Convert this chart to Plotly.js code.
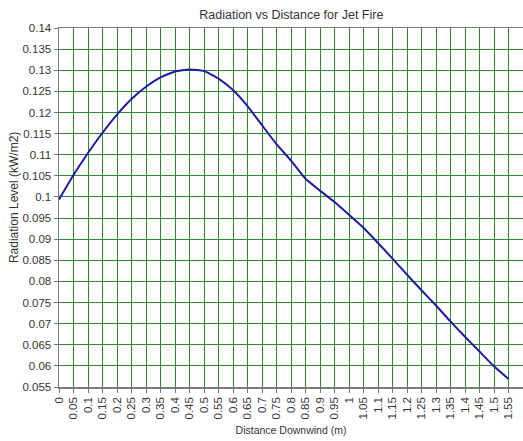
<!DOCTYPE html>
<html>
<head>
<meta charset="utf-8">
<script src="https://cdn.plot.ly/plotly-3.0.1.min.js"></script>
<style>html,body{margin:0;padding:0;background:#fff;}#chart{width:523px;height:441px;}</style>
</head>
<body>
<div id="chart"></div>
<script>
var distance = [0, 0.05, 0.1, 0.15, 0.2, 0.25, 0.3, 0.35, 0.4, 0.45, 0.5, 0.55, 0.6, 0.65, 0.7, 0.75, 0.8, 0.85, 0.9, 0.95, 1.0, 1.05, 1.1, 1.15, 1.2, 1.25, 1.3, 1.35, 1.4, 1.45, 1.5, 1.55];
var radiation = [0.0994, 0.1052, 0.1104, 0.1152, 0.1195, 0.1232, 0.1261, 0.1283, 0.1297, 0.1302, 0.1298, 0.1280, 0.1253, 0.1215, 0.1170, 0.1125, 0.1086, 0.1043, 0.1015, 0.0988, 0.0958, 0.0927, 0.0891, 0.0854, 0.0816, 0.0779, 0.0743, 0.0705, 0.0669, 0.0634, 0.0599, 0.0569];
var xTickLabels = ["0","0.05","0.1","0.15","0.2","0.25","0.3","0.35","0.4","0.45","0.5","0.55","0.6","0.65","0.7","0.75","0.8","0.85","0.9","0.95","1","1.05","1.1","1.15","1.2","1.25","1.3","1.35","1.4","1.45","1.5","1.55","1.6"];
var yTickLabels = ["0.055","0.06","0.065","0.07","0.075","0.08","0.085","0.09","0.095","0.1","0.105","0.11","0.115","0.12","0.125","0.13","0.135","0.14"];
var xTickVals = xTickLabels.map(Number);
var yTickVals = yTickLabels.map(Number);
var chartTitle = 'Radiation vs Distance for Jet Fire';
var xTitle = 'Distance Downwind (m)';
var yTitle = 'Radiation Level (kW/m2)';

var fontFam = "Liberation Sans, Arial, sans-serif";
var trace = {
  x: distance, y: radiation, mode: 'lines', type: 'scatter',
  line: {color: '#1c1ca0', width: 2, shape: 'spline', smoothing: 0.4},
  hoverinfo: 'skip'
};
var layout = {
  width: 523, height: 441,
  margin: {l: 59, r: 0, t: 28, b: 54, pad: 0},
  paper_bgcolor: '#ffffff', plot_bgcolor: '#ffffff',
  showlegend: false,
  font: {family: fontFam, color: '#333333', size: 11},
  title: {text: chartTitle, x: 0.557, xanchor: 'center', y: 0.966, yanchor: 'middle', font: {family: fontFam, size: 12.5, color: '#333333'}},
  xaxis: {
    range: [0, 1.6], tickmode: 'array', tickvals: xTickVals, ticktext: xTickLabels,
    tickangle: -90, ticks: 'outside', ticklen: 4, tickcolor: '#777777',
    showgrid: true, gridcolor: '#2f8a2f', gridwidth: 1,
    showline: true, linecolor: '#7a7a7a', linewidth: 1.5, mirror: true,
    zeroline: false, automargin: false,
    tickfont: {family: fontFam, size: 11.5, color: '#333333'},
    title: {text: xTitle, standoff: 8, font: {family: fontFam, size: 10.5, color: '#333333'}}
  },
  yaxis: {
    range: [0.055, 0.14], tickmode: 'array', tickvals: yTickVals, ticktext: yTickLabels,
    ticks: 'outside', ticklen: 4, tickcolor: '#777777',
    showgrid: true, gridcolor: '#2f8a2f', gridwidth: 1,
    showline: true, linecolor: '#7a7a7a', linewidth: 1.5,
    zeroline: false, automargin: false,
    tickfont: {family: fontFam, size: 11.5, color: '#333333'}
  },
  annotations: [{
    text: yTitle, xref: 'paper', yref: 'paper', x: -0.097, y: 0.529,
    xanchor: 'center', yanchor: 'middle', textangle: -90, showarrow: false,
    font: {family: fontFam, size: 12, color: '#333333'}
  }]
};
Plotly.newPlot('chart', [trace], layout, {staticPlot: true, displayModeBar: false});
</script>
</body>
</html>
